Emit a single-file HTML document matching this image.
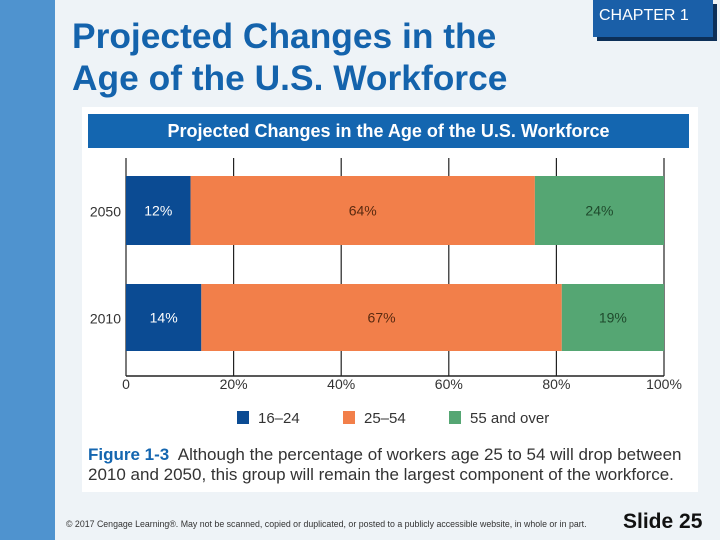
<!DOCTYPE html>
<html><head><meta charset="utf-8"><style>
body{margin:0;width:720px;height:540px;overflow:hidden;background:#eef3f7;font-family:"Liberation Sans",sans-serif;position:relative}
.abs{position:absolute}
</style></head><body>
<div class="abs" style="left:0;top:0;width:55px;height:540px;background:#4f93cf"></div>
<div class="abs" style="left:72px;top:16px;font-size:35px;line-height:42px;font-weight:bold;color:#1463ac;transform:scaleX(1.01);transform-origin:left">Projected Changes in the<br>Age of the U.S. Workforce</div>
<div class="abs" style="left:593px;top:0;width:120px;height:37px;background:#1a5fa8;box-shadow:4px 4px 0 #0c2f58;color:#fff;font-size:16px;line-height:32px;padding-left:6px;box-sizing:border-box">CHAPTER 1</div>
<div class="abs" style="left:82px;top:107px;width:616px;height:385px;background:#fff"></div>
<div class="abs" style="left:88px;top:114px;width:601px;height:34px;background:#1466b0;color:#fff;font-weight:bold;font-size:18px;line-height:34px;text-align:center">Projected Changes in the Age of the U.S. Workforce</div>
<svg class="abs" style="left:0;top:0" width="720" height="540">
<g id="chart"></g>
</svg>
<div class="abs" style="left:88px;top:445px;font-size:17px;line-height:20px;color:#333;white-space:nowrap"><b style="color:#1466b0">Figure 1-3</b>&nbsp; Although the percentage of workers age 25 to 54 will drop between<br>2010 and 2050, this group will remain the largest component of the workforce.</div>
<div class="abs" style="left:66px;top:519px;font-size:8.8px;color:#333;white-space:nowrap">© 2017 Cengage Learning®. May not be scanned, copied or duplicated, or posted to a publicly accessible website, in whole or in part.</div>
<div class="abs" style="left:623px;top:510px;font-size:21px;font-weight:bold;color:#111">Slide 25</div>
<script>
const categories=["2050","2010"];
const s1624=[12,14];
const s2554=[64,67];
const s55=[24,19];
const ticks=[0,20,40,60,80,100];
const tickLabels=["0","20%","40%","60%","80%","100%"];
const seriesNames=["16–24","25–54","55 and over"];
const colors=["#0b4b93","#f27f4a","#55a673"];
const textColors=["#fff","#5a2a10","#1f4a2c"];
const ns="http://www.w3.org/2000/svg";
const g=document.getElementById('chart');
const x=v=>126+v*5.38;
const yTop=[176,284], barH=[69,67];
function mk(t,a){const e=document.createElementNS(ns,t);for(const k in a)e.setAttribute(k,a[k]);g.appendChild(e);return e;}
ticks.forEach((t,i)=>{
  const l=mk('line',{x1:x(t),x2:x(t),y1:158,y2:376,stroke:'#222','stroke-width':1.2});
  
  
  const tx=mk('text',{x:x(t),y:389,'text-anchor':'middle','font-size':14,fill:'#333','font-family':'Liberation Sans'});
  tx.textContent=tickLabels[i];
  
  
});
const ax=mk('line',{x1:126,x2:x(100),y1:376,y2:376,stroke:'#222','stroke-width':1.5});


const series=[s1624,s2554,s55];
categories.forEach((c,i)=>{
  let acc=0;
  series.forEach((s,j)=>{
    const r=mk('rect',{x:x(acc),y:yTop[i],width:x(acc+s[i])-x(acc),height:barH[i],fill:colors[j]});
    
    
    const t=mk('text',{x:(x(acc)+x(acc+s[i]))/2,y:yTop[i]+barH[i]/2+5,'text-anchor':'middle','font-size':14,fill:textColors[j],'font-family':'Liberation Sans'});
    t.textContent=s[i]+'%';
    
    
    acc+=s[i];
  });
  const cl=mk('text',{x:121,y:yTop[i]+barH[i]/2+6,'text-anchor':'end','font-size':14,fill:'#333','font-family':'Liberation Sans'});
  cl.textContent=c;
  
  
});
const lx=[237,343,449];
seriesNames.forEach((n,j)=>{
  const r=mk('rect',{x:lx[j],y:411,width:12,height:13,fill:colors[j]});
  
  
  const t=mk('text',{x:lx[j]+21,y:423,'font-size':15,fill:'#333','font-family':'Liberation Sans'});
  t.textContent=n;
  
  
});
</script>
</body></html>
